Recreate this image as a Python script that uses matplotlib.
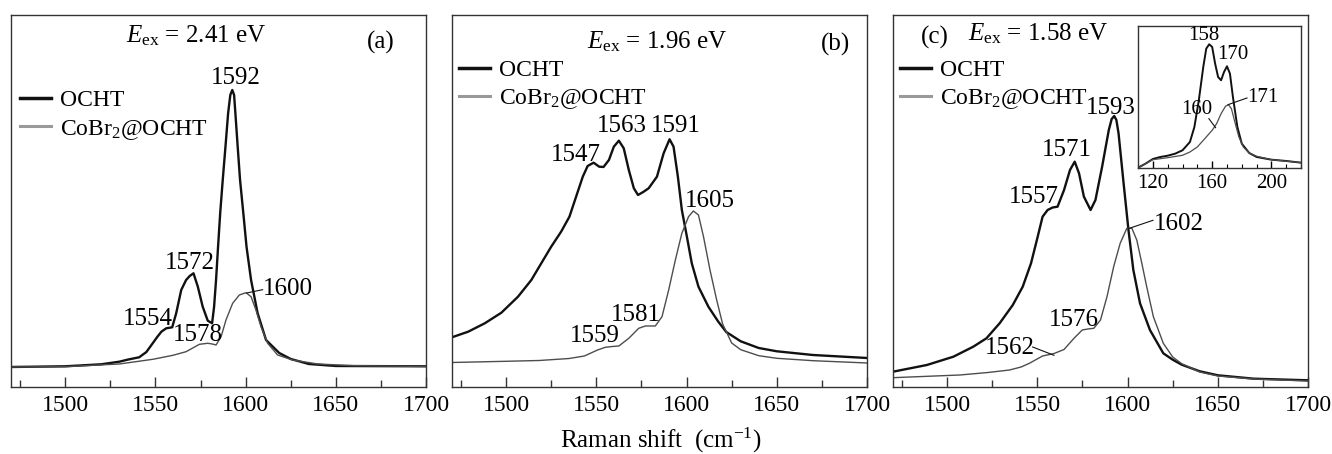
import numpy as np
import matplotlib
matplotlib.use("Agg")
import matplotlib.pyplot as plt
from matplotlib.lines import Line2D
from matplotlib.ticker import MultipleLocator

plt.rcParams["font.family"] = ["Liberation Serif", "DejaVu Serif"]
plt.rcParams["mathtext.fontset"] = "custom"
plt.rcParams["mathtext.rm"] = "Liberation Serif"
plt.rcParams["mathtext.it"] = "Liberation Serif:italic"

# ---- data (intensity in arbitrary units) ----
# (a) Eex = 2.41 eV
a_ocht_x = [1470, 1500, 1520, 1525, 1530, 1535, 1541, 1545, 1548.6, 1551, 1553.3, 1556, 1559.3,
            1561.5, 1564.3, 1567, 1569, 1571.1, 1573.5, 1576.2, 1579, 1581.4, 1582.5, 1583.6,
            1584.7, 1585.9, 1587.3, 1588.8, 1590.3, 1591.5, 1592.6, 1593.6, 1594.3, 1595.6,
            1596.9, 1598.7, 1600.5, 1603, 1606.6, 1611.3, 1618.6, 1625, 1635, 1650, 1700]
a_ocht_y = [20, 20.7, 22.7, 24, 25.3, 27.5, 29.7, 35, 44, 50, 55.3, 58.7, 59.7,
            73.7, 97, 107, 111, 113.7, 100.3, 80.3, 66.3, 63.7, 80, 107,
            140, 174, 207, 240, 274, 292, 297, 292, 274, 240,
            207, 174, 140, 107, 74, 47, 34, 28, 23, 21, 20.7]
a_cobr_x = [1470, 1500, 1530, 1548.6, 1555, 1559.7, 1567, 1574.4, 1579, 1581.5, 1583.6, 1586.4,
            1589.1, 1592.8, 1596.5, 1600.2, 1603, 1605.7, 1608.5, 1612.2, 1617.7, 1626, 1640,
            1660, 1700]
a_cobr_y = [20, 20.3, 23, 27.7, 30, 31.7, 35.3, 42.7, 43.7, 43, 42, 50.3,
            67, 83.7, 92, 94.3, 90.3, 77, 60.3, 43.7, 32, 27, 23, 21.3, 20.5]

# (b) Eex = 1.96 eV
b_ocht_x = [1470, 1479, 1488.2, 1497.4, 1506.6, 1514, 1519.5, 1525, 1530.5, 1535.1, 1538.8,
            1542.5, 1545.2, 1548.5, 1551.6, 1554, 1557, 1559.7, 1562.5, 1565.2, 1568, 1570.8,
            1573.1, 1576, 1579, 1583.6, 1587.3, 1590.6, 1592.8, 1595.2, 1597.4, 1600.2, 1602.9,
            1606.6, 1612.1, 1617.6, 1622, 1630, 1640, 1650, 1670, 1700]
b_ocht_y = [49.7, 55.3, 63.7, 74.3, 90.3, 107, 123.7, 140.3, 155.3, 170.3, 190.3,
            210.3, 221, 224.3, 220.3, 220, 227, 240.3, 246.3, 238.7, 217, 198.7,
            192, 195, 198.7, 210.3, 233.7, 247.7, 240.3, 210.3, 177, 150.3, 123.7,
            100.3, 80.3, 65.3, 55, 45.7, 39, 35.7, 32, 29]
b_cobr_x = [1470, 1500, 1518.4, 1535, 1543.4, 1550.7, 1555, 1559, 1562.5, 1568, 1573.5, 1577.2,
            1582.7, 1586.4, 1590.1, 1593.8, 1597.4, 1601.1, 1603.8, 1606.6, 1609.4, 1613, 1616.7,
            1620, 1625, 1630, 1640, 1650, 1670, 1700]
b_cobr_y = [24.5, 25.7, 26.5, 28.5, 31, 37, 39.7, 40.5, 41, 48.7, 58.7, 61,
            61, 70.3, 97, 127, 153.7, 170.3, 176, 172, 150.3, 117, 87,
            63, 44, 37.3, 31.3, 28.7, 26.3, 24]

# (c) Eex = 1.58 eV
c_ocht_x = [1470, 1488.8, 1503.5, 1514.5, 1521.8, 1529.1, 1536.4, 1541.9, 1546.5, 1550.2,
            1552.9, 1555.7, 1558.5, 1561.2, 1564.8, 1568.1, 1570.7, 1573.1, 1575.8, 1579.5,
            1582.2, 1585.9, 1589.6, 1591.2, 1592.6, 1593.8, 1595, 1597.8, 1600.5, 1603.2, 1606.9,
            1612.4, 1619.8, 1625, 1630, 1640, 1650, 1670, 1700]
c_ocht_y = [15.3, 22, 30.3, 40.3, 48.7, 63.7, 82, 100.3, 123.7, 150.3,
            170.3, 177, 179.5, 180.3, 197, 217, 225.3, 213.7, 190.3, 177,
            187, 220.3, 257, 268, 271, 267, 253.7, 203.7, 157, 117, 83.7,
            57, 33.7, 27.3, 22.3, 15.7, 11.7, 8.3, 6.7]
c_cobr_x = [1470, 1507.1, 1522.7, 1534.6, 1541, 1545.6, 1552.9, 1559.3, 1564.8, 1570.3, 1574.9,
            1578, 1581.3, 1585, 1588.6, 1592.3, 1595.9, 1599.6, 1602.4, 1605.1, 1607.9, 1610.6,
            1614.3, 1619.8, 1625, 1630, 1640, 1650, 1670, 1700]
c_cobr_y = [9.3, 12, 14.5, 17, 20, 23.7, 31, 33.5, 37.5, 48.7, 57,
            58, 58.7, 67, 90.3, 120.3, 143.7, 158.7, 158.7, 147, 123.7, 100.3,
            70.3, 43.7, 30, 23.3, 15, 11, 8, 6]

# inset of (c), low-frequency region
ins_ocht_x = [110, 115, 120, 125, 130, 135, 140, 145, 148, 151, 154, 156, 158, 160, 162,
              164, 166, 168, 170, 172, 174, 177, 180, 185, 190, 200, 210, 220]
ins_ocht_y = [0.3, 4.3, 9, 11, 12.3, 14.3, 17.7, 26, 41, 67.7, 101, 119.3, 123.7, 121, 104.3,
              91, 87.7, 96, 101.7, 94.3, 71, 41, 24.3, 15, 11, 8.3, 7, 5.3]
ins_cobr_x = [110, 115, 120, 130, 140, 145, 150, 155, 160, 163, 166, 169, 171, 173, 175,
              178, 181, 185, 190, 200, 220]
ins_cobr_y = [0.3, 4.3, 8.3, 10.3, 12.7, 16, 21, 29.3, 37.7, 44.3, 54.3, 61.7, 63.3, 59.3, 47.7,
              31, 21, 15, 11.7, 8.3, 5.3]

# peak labels: (text, x, y)
a_labels = [("1592", 1594.7, 309), ("1572", 1569.2, 124), ("1554", 1545.9, 68), ("1578", 1573.5, 52)]
b_labels = [("1547", 1538.6, 232), ("1563", 1564.2, 261), ("1591", 1594.1, 261),
            ("1605", 1613.0, 186), ("1581", 1571.7, 72), ("1559", 1549.4, 51)]
c_labels = [("1593", 1590.8, 279), ("1571", 1566.1, 237), ("1557", 1548.2, 190), ("1576", 1570.1, 67)]
ins_labels = [("158", 154.2, 132), ("170", 173.6, 113)]

BLACK = "#111111"
GREY = "#4d4d4d"
FS = 18
FS_TICK = 17
FS_LEG = 17
FS_IN = 15

fig = plt.figure(figsize=(13.32, 4.54), dpi=100)
lefts = [0.0083, 0.3393, 0.6704]
axes = [fig.add_axes([l, 0.1476, 0.3116, 0.8194]) for l in lefts]

data = [(a_ocht_x, a_ocht_y, a_cobr_x, a_cobr_y),
        (b_ocht_x, b_ocht_y, b_cobr_x, b_cobr_y),
        (c_ocht_x, c_ocht_y, c_cobr_x, c_cobr_y)]

for ax, (ox, oy, cx, cy) in zip(axes, data):
    ax.plot(ox, oy, color=BLACK, lw=1.7, solid_joinstyle="round")
    ax.plot(cx, cy, color=GREY, lw=1.0, solid_joinstyle="round")
    ax.set_xlim(1470, 1700)
    ax.set_ylim(0, 372)
    ax.set_yticks([])
    ax.xaxis.set_major_locator(MultipleLocator(50))
    ax.xaxis.set_minor_locator(MultipleLocator(25))
    ax.tick_params(axis="x", which="major", direction="in", length=7.5, width=1,
                   labelsize=FS_TICK, pad=6, color="#333333")
    ax.tick_params(axis="x", which="minor", direction="in", length=4.8, width=1, color="#333333")
    for s in ax.spines.values():
        s.set_linewidth(1.0)
        s.set_color("#333333")
    handles = [Line2D([], [], color=BLACK, lw=2.5), Line2D([], [], color="#999999", lw=2.2)]
    ax.legend(handles, ["OCHT", "CoBr$_2$@OCHT"], loc="upper left", frameon=False,
              fontsize=FS_LEG, handlelength=1.3, handletextpad=0.38, labelspacing=0.27,
              borderaxespad=0.0, borderpad=0.3)

# legend vertical positions differ per panel
axes[0].get_legend().set_bbox_to_anchor((0.005, 0.818))
axes[1].get_legend().set_bbox_to_anchor((0.0, 0.9))
axes[2].get_legend().set_bbox_to_anchor((0.0, 0.9))

for ax, lab in zip(axes, [a_labels, b_labels, c_labels]):
    for t, x, y in lab:
        ax.text(x, y, t, fontsize=FS, ha="center", va="center")

# labels with leader lines
axes[0].plot([1600.6, 1609.4], [94, 97.3], color=BLACK, lw=0.8)
axes[0].text(1609.6, 98, "1600", fontsize=FS, ha="left", va="center")
axes[2].plot([1600.4, 1614.1], [158.3, 166.7], color=BLACK, lw=0.8)
axes[2].text(1614.6, 163, "1602", fontsize=FS, ha="left", va="center")
axes[2].plot([1547.4, 1559.2], [40, 31.7], color=BLACK, lw=0.8)
axes[2].text(1534.8, 38.5, "1562", fontsize=FS, ha="center", va="center")

# titles and panel letters (axes fraction)
axes[0].text(0.445, 0.945, r"$E_{\rm ex}$ = 2.41 eV", transform=axes[0].transAxes,
             fontsize=FS, ha="center", va="center")
axes[0].text(0.89, 0.925, "(a)", transform=axes[0].transAxes, fontsize=FS, ha="center", va="center")
axes[1].text(0.494, 0.928, r"$E_{\rm ex}$ = 1.96 eV", transform=axes[1].transAxes,
             fontsize=FS, ha="center", va="center")
axes[1].text(0.925, 0.92, "(b)", transform=axes[1].transAxes, fontsize=FS, ha="center", va="center")
axes[2].text(0.35, 0.95, r"$E_{\rm ex}$ = 1.58 eV", transform=axes[2].transAxes,
             fontsize=FS, ha="center", va="center")
axes[2].text(0.1, 0.94, "(c)", transform=axes[2].transAxes, fontsize=FS, ha="center", va="center")

fig.text(661 / 1332, 1 - 440 / 454, r"Raman shift  (cm$^{-1}$)", fontsize=FS, ha="center", va="center")

# inset
ins = fig.add_axes([0.8544, 0.6300, 0.1224, 0.3128])
ins.plot(ins_ocht_x, ins_ocht_y, color=BLACK, lw=1.4, solid_joinstyle="round")
ins.plot(ins_cobr_x, ins_cobr_y, color=GREY, lw=0.9, solid_joinstyle="round")
ins.set_xlim(110, 220)
ins.set_ylim(0, 142)
ins.set_yticks([])
ins.set_xticks([120, 160, 200])
ins.xaxis.set_minor_locator(MultipleLocator(10))
ins.tick_params(axis="x", which="major", direction="in", length=5, width=1, labelsize=FS_IN, pad=4)
ins.tick_params(axis="x", which="minor", direction="in", length=3, width=0.8)
for s in ins.spines.values():
    s.set_linewidth(1.0)
    s.set_color("#333333")
for t, x, y in ins_labels:
    ins.text(x, y, t, fontsize=FS_IN, ha="center", va="center")
ins.plot([170.7, 183.5], [63.3, 70], color=BLACK, lw=0.8)
ins.text(193.9, 70, "171", fontsize=FS_IN, ha="center", va="center")
ins.plot([157.8, 162.3], [49.3, 40.3], color=BLACK, lw=0.8)
ins.text(149.7, 58.7, "160", fontsize=FS_IN, ha="center", va="center")

fig.savefig("out.png", dpi=100)
